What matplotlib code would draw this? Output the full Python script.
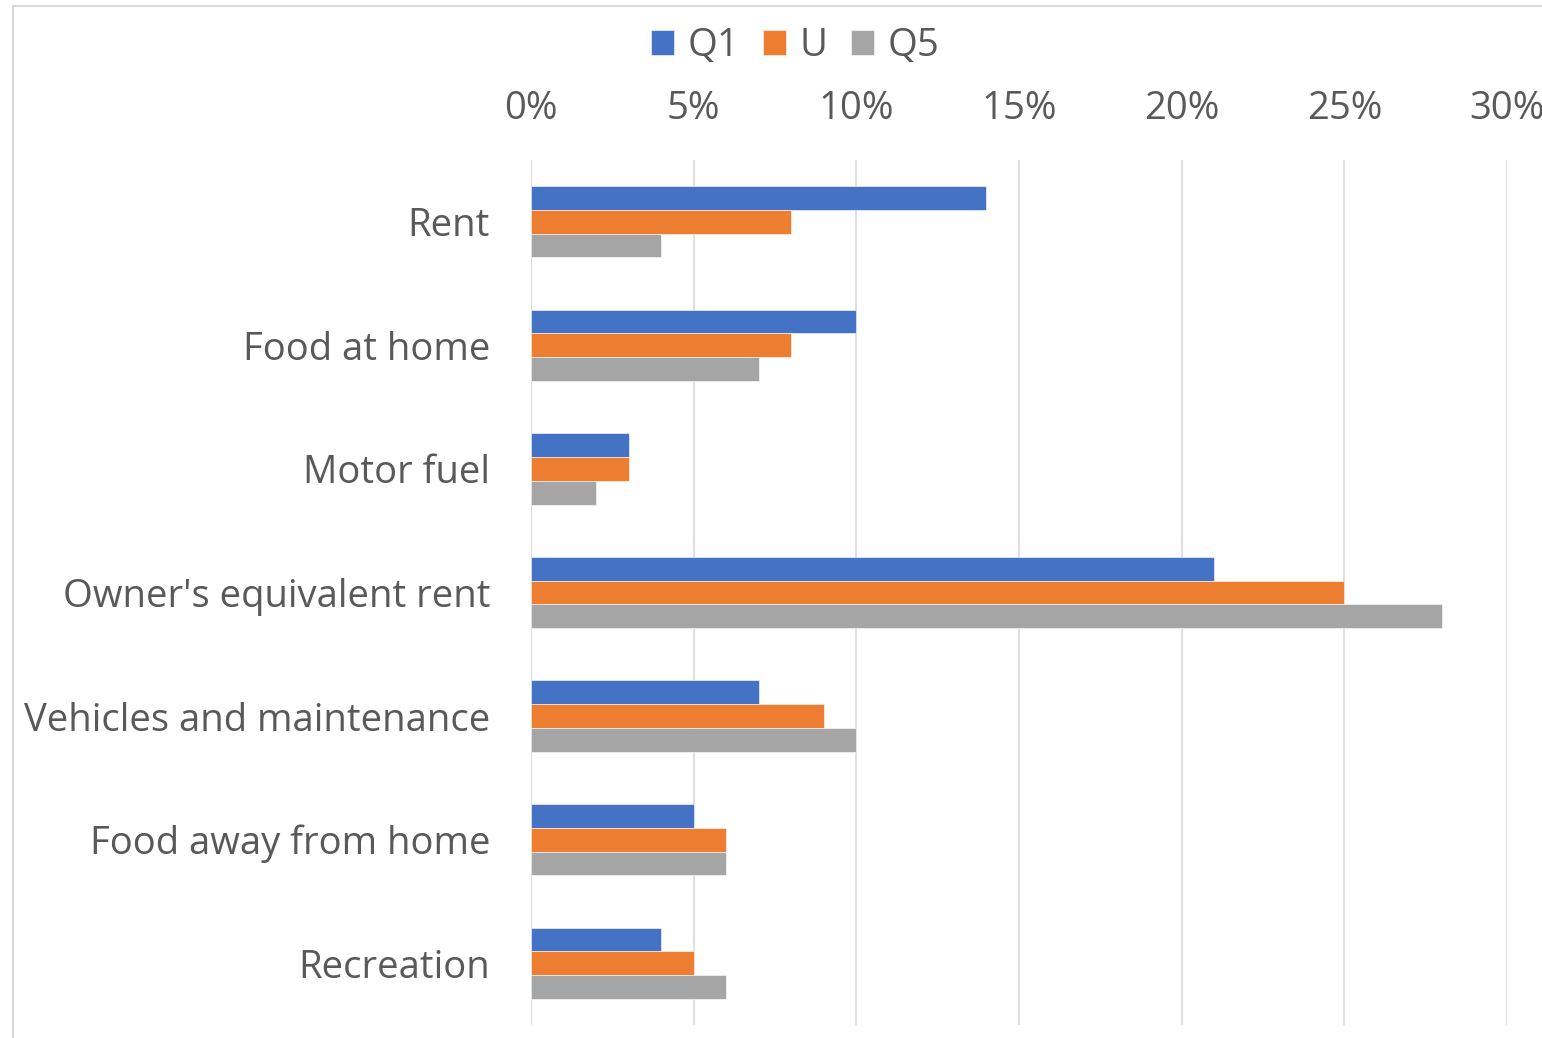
import matplotlib
matplotlib.use("Agg")
import matplotlib.pyplot as plt
import numpy as np
from matplotlib.lines import Line2D

categories = ["Rent", "Food at home", "Motor fuel", "Owner's equivalent rent",
              "Vehicles and maintenance", "Food away from home", "Recreation"]
series_names = ["Q1", "U", "Q5"]
q1 = [14, 10, 3, 21, 7, 5, 4]
u = [8, 8, 3, 25, 9, 6, 5]
q5 = [4, 7, 2, 28, 10, 6, 6]
tick_values = [0, 5, 10, 15, 20, 25, 30]
tick_labels = ["0%", "5%", "10%", "15%", "20%", "25%", "30%"]

colors = ["#4472C4", "#ED7D31", "#A5A5A5"]
text_color = "#595959"
FONT = ["Open Sans", "DejaVu Sans"]
plt.rcParams['font.family'] = FONT

W, H = 1542, 1038
fig = plt.figure(figsize=(W / 100, H / 100), dpi=100)
fig.patch.set_facecolor("white")

# chart border (partially visible: left and top edges)
fig.add_artist(Line2D([12.5 / W, 12.5 / W], [0, 1 - 6 / H], transform=fig.transFigure,
                      color="#D9D9D9", linewidth=1.5))
fig.add_artist(Line2D([12.5 / W, 1.01], [1 - 6 / H, 1 - 6 / H], transform=fig.transFigure,
                      color="#D9D9D9", linewidth=1.5))

left, right = 531 / W, 1507 / W
top, bottom = 1 - 160 / H, 1 - 1025 / H
ax = fig.add_axes([left, bottom, right - left, top - bottom])

n = len(categories)
y = np.arange(n)
bh = 0.192
all_series = [q1, u, q5]
handles = []
for i, (vals, c, name) in enumerate(zip(all_series, colors, series_names)):
    b = ax.barh(y + (i - 1) * bh, vals, height=bh, color=c, label=name,
                edgecolor="white", linewidth=0.4, zorder=3)
    handles.append(b)

ax.set_xlim(0, 30)
ax.set_ylim(n - 0.5, -0.5)
ax.set_xticks(tick_values)
ax.set_xticklabels(tick_labels)
ax.set_yticks(y)
ax.set_yticklabels(categories)
ax.xaxis.tick_top()
ax.tick_params(axis="x", length=0, pad=23, labelsize=27.5, labelcolor=text_color)
ax.tick_params(axis="y", length=0, pad=29.5, labelsize=27.5, labelcolor=text_color)
ax.grid(axis="x", color="#D9D9D9", linewidth=1.2, zorder=0)
ax.set_axisbelow(True)
for s in ax.spines.values():
    s.set_visible(False)

fig.legend(handles=handles, labels=series_names, loc="center",
           bbox_to_anchor=(795 / W, 1 - 46 / H), ncol=3, frameon=False,
           fontsize=27.5, labelcolor=text_color, handlelength=0.62,
           handleheight=0.62, handletextpad=0.35, columnspacing=0.6,
           borderaxespad=0, borderpad=0)

fig.savefig("out.png", dpi=100)
